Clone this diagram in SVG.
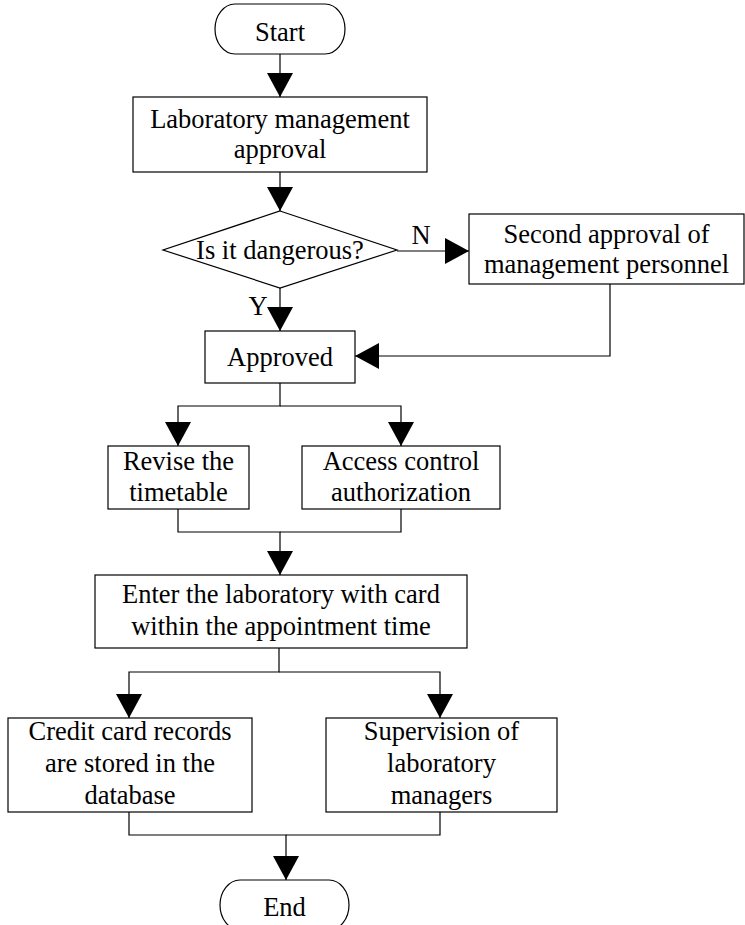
<svg xmlns="http://www.w3.org/2000/svg" width="745" height="925" viewBox="0 0 745 925">
<style>
.s{fill:#fff;stroke:#000;stroke-width:1.2}
.c{fill:none;stroke:#000;stroke-width:1.2}
text{font-family:"Liberation Serif","Times New Roman",serif;font-size:26.5px;fill:#000;text-anchor:middle}
</style>
<defs>
<marker id="ah" markerUnits="userSpaceOnUse" markerWidth="24" markerHeight="28" refX="24" refY="14" orient="auto">
<path d="M0,1 L24,14 L0,27 Z" fill="#000"/>
</marker>
</defs>
<rect width="745" height="925" fill="#fff"/>
<g id="connectors">
<path class="c" d="M280,54 V97" marker-end="url(#ah)"/>
<path class="c" d="M280,172 V211" marker-end="url(#ah)"/>
<path class="c" d="M397,251 H469" marker-end="url(#ah)"/>
<path class="c" d="M280,288 V331" marker-end="url(#ah)"/>
<path class="c" d="M610,284 V356 H355" marker-end="url(#ah)"/>
<path class="c" d="M280,383 V406 H178 V446" marker-end="url(#ah)"/>
<path class="c" d="M280,406 H401 V446" marker-end="url(#ah)"/>
<path class="c" d="M178,509 V532 H280 V575" marker-end="url(#ah)"/>
<path class="c" d="M401,509 V532 H280"/>
<path class="c" d="M279,648 V672 H129 V718" marker-end="url(#ah)"/>
<path class="c" d="M279,672 H440 V718" marker-end="url(#ah)"/>
<path class="c" d="M129,812 V835 H286 V880" marker-end="url(#ah)"/>
<path class="c" d="M440,812 V835 H286"/>
<text x="421" y="244">N</text>
<text x="258" y="315">Y</text>
</g>
<g id="start">
<rect class="s" x="215" y="4" width="130" height="50" rx="20" ry="25"/>
<text x="280" y="41">Start</text>
</g>
<g id="lab_approval">
<rect class="s" x="133" y="97" width="294" height="75"/>
<text x="280" y="128">Laboratory management</text>
<text x="280" y="158">approval</text>
</g>
<g id="dangerous">
<polygon class="s" points="280,211 397,250 280,288 163,250"/>
<text x="280" y="259">Is it dangerous?</text>
</g>
<g id="second_approval">
<rect class="s" x="469" y="214" width="275" height="70"/>
<text x="606.5" y="243">Second approval of</text>
<text x="606.5" y="273">management personnel</text>
</g>
<g id="approved">
<rect class="s" x="205" y="331" width="150" height="52"/>
<text x="280" y="366">Approved</text>
</g>
<g id="revise">
<rect class="s" x="108" y="446" width="141" height="63"/>
<text x="178.5" y="470">Revise the</text>
<text x="178.5" y="501">timetable</text>
</g>
<g id="access">
<rect class="s" x="302" y="446" width="198" height="63"/>
<text x="401" y="470">Access control</text>
<text x="401" y="501">authorization</text>
</g>
<g id="enter">
<rect class="s" x="95" y="575" width="372" height="73"/>
<text x="281" y="603">Enter the laboratory with card</text>
<text x="281" y="635">within the appointment time</text>
</g>
<g id="credit">
<rect class="s" x="8" y="718" width="244" height="94"/>
<text x="130" y="740">Credit card records</text>
<text x="130" y="772">are stored in the</text>
<text x="130" y="804">database</text>
</g>
<g id="supervision">
<rect class="s" x="326" y="718" width="231" height="94"/>
<text x="441.5" y="740">Supervision of</text>
<text x="441.5" y="772">laboratory</text>
<text x="441.5" y="804">managers</text>
</g>
<g id="end">
<rect class="s" x="220" y="880" width="129" height="50" rx="20" ry="25"/>
<text x="284.5" y="916">End</text>
</g>
</svg>
